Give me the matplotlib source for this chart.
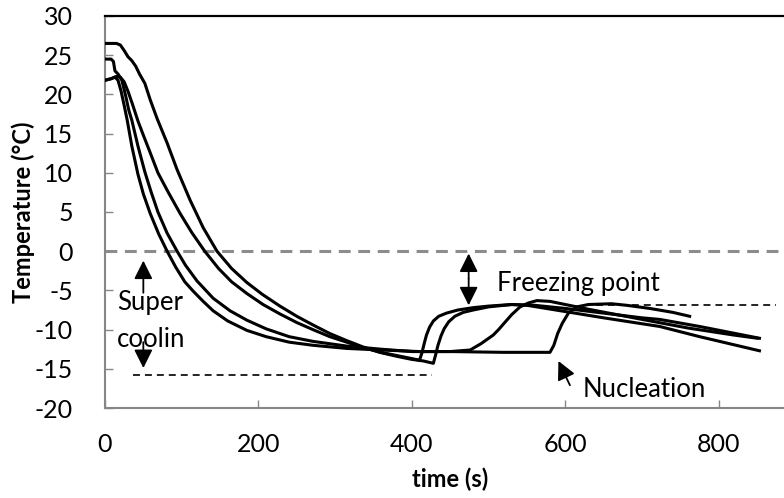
import matplotlib.pyplot as plt

plt.rcParams['font.family'] = ['Lato', 'DejaVu Sans']
plt.rcParams['lines.scale_dashes'] = False
plt.rcParams['axes.unicode_minus'] = False

# curva que empieza en 26.5 C (nucleacion a 428 s)
t_a = [0, 15, 20, 25, 30, 35, 40, 45, 52, 59, 68, 81, 94, 111, 128, 146, 165, 185, 205, 228,
       250, 271, 293, 315, 336, 358, 380, 400, 415, 428, 431, 434, 438, 442, 448, 456, 467,
       480, 500, 530, 560, 600, 650, 700, 723, 775, 853]
T_a = [26.5, 26.5, 26.3, 25.6, 24.8, 24.3, 23.6, 22.6, 21.4, 19.3, 16.9, 13.8, 10.4, 6.5, 3.0,
       0.0, -2.2, -4.0, -5.5, -7.0, -8.3, -9.4, -10.5, -11.4, -12.2, -12.9, -13.4, -13.8, -14.0,
       -14.3, -13.2, -12.0, -10.8, -9.9, -9.0, -8.3, -7.8, -7.5, -7.1, -6.8, -6.9, -7.3, -7.9,
       -8.5, -8.7, -9.6, -11.1]

# curva que empieza en 24.5 C (nucleacion gradual a 476 s)
t_b = [0, 8, 11, 13, 17, 22, 27, 31, 35, 43, 52, 60, 69, 81, 94, 105, 120, 141, 163, 185,
       210, 240, 271, 315, 360, 400, 450, 476, 490, 506, 513, 521, 530, 541, 552, 563, 580,
       600, 630, 700, 760, 820, 850]
T_b = [24.5, 24.5, 24.2, 23.0, 22.6, 21.8, 19.8, 18.0, 16.7, 13.4, 10.1, 7.6, 5.0, 2.3, 0.0,
       -1.8, -3.8, -6.0, -7.6, -8.8, -9.9, -10.9, -11.5, -12.1, -12.5, -12.8, -12.8, -12.6,
       -11.8, -10.7, -10.0, -9.1, -8.1, -7.1, -6.6, -6.3, -6.4, -6.8, -7.4, -8.7, -9.8, -10.7,
       -11.1]

# curva con el maximo de 22.3 C (nucleacion a 410 s)
t_c = [0, 8, 15, 20, 25, 30, 36, 43, 50, 58, 69, 82, 98, 113, 130, 148, 165, 185, 206, 228,
       250, 271, 293, 315, 336, 360, 380, 400, 410, 413, 416, 419, 423, 428, 435, 445, 460,
       480, 500, 530, 550, 600, 650, 723, 775, 853]
T_c = [21.8, 22.0, 22.3, 22.2, 21.6, 20.4, 18.7, 16.6, 14.8, 12.8, 10.0, 7.6, 4.8, 2.4, 0.0,
       -2.2, -3.9, -5.4, -6.8, -8.0, -9.1, -10.0, -10.9, -11.6, -12.3, -12.9, -13.3, -13.7,
       -13.9, -13.0, -11.8, -10.7, -9.7, -8.9, -8.3, -7.9, -7.5, -7.2, -7.0, -6.8, -6.9, -7.7,
       -8.5, -9.6, -10.9, -12.7]

# curva mas rapida (nucleacion a 580 s)
t_d = [0, 8, 13, 17, 21, 25, 29, 35, 43, 50, 59, 70, 81, 92, 104, 115, 128, 141, 160, 185,
       210, 240, 271, 315, 360, 410, 450, 520, 580, 585, 590, 596, 604, 615, 630, 660, 680,
       710, 740, 762]
T_d = [21.8, 22.0, 22.2, 21.8, 20.4, 18.6, 16.7, 13.4, 9.8, 7.3, 4.8, 2.2, 0.0, -2.0, -3.9,
       -5.1, -6.4, -7.6, -8.9, -10.1, -10.9, -11.6, -12.0, -12.4, -12.6, -12.8, -12.8, -12.9,
       -12.9, -12.0, -10.5, -9.2, -7.9, -7.1, -6.8, -6.7, -6.9, -7.3, -7.8, -8.3]

xticks = [0, 200, 400, 600, 800]
yticks = [-20, -15, -10, -5, 0, 5, 10, 15, 20, 25, 30]

fig = plt.figure(figsize=(7.84, 4.98), dpi=100)
ax = fig.add_axes([0.1339, 0.1807, 0.8661, 0.7872])

for t, T in [(t_a, T_a), (t_b, T_b), (t_c, T_c), (t_d, T_d)]:
    ax.plot(t, T, color='black', lw=2.2, solid_joinstyle='round', zorder=3)

# punto de congelacion y lineas de referencia
ax.axhline(0, color='#8c8c8c', lw=2.2, dashes=(8.5, 5.5), zorder=2)
ax.plot([36, 426], [-15.8, -15.8], color='black', lw=1.2, dashes=(5, 3.6))
ax.plot([640, 875], [-6.8, -6.8], color='black', lw=1.2, dashes=(5, 3.6))

arr = dict(arrowstyle='-|>', color='black', lw=1.3, mutation_scale=28, shrinkA=0, shrinkB=0)
ax.annotate('', xy=(50, -1.2), xytext=(50, -5.3), arrowprops=arr)
ax.annotate('', xy=(50, -14.9), xytext=(50, -11.6), arrowprops=arr)
ax.annotate('', xy=(474, -0.3), xytext=(474, -3.5), arrowprops=arr)
ax.annotate('', xy=(474, -6.9), xytext=(474, -3.5), arrowprops=arr)
ax.annotate('', xy=(591, -14.0), xytext=(606, -17.1), arrowprops=arr)

ax.text(16, -6.6, 'Super', fontsize=18.5, va='center', ha='left')
ax.text(16, -11.2, 'coolin', fontsize=18.5, va='center', ha='left')
ax.text(511, -4.1, 'Freezing point', fontsize=18.5, va='center', ha='left')
ax.text(623, -17.6, 'Nucleation', fontsize=18.5, va='center', ha='left')

ax.set_xlim(0, 885)
ax.set_ylim(-20, 30)
ax.set_xticks(xticks)
ax.set_yticks(yticks)
ax.tick_params(direction='in', length=6, width=1, color='#868686', labelsize=18)
ax.tick_params(axis='y', pad=23)
ax.tick_params(axis='x', pad=18)

ax.spines['right'].set_visible(False)
ax.spines['top'].set_color('black')
ax.spines['top'].set_linewidth(1.6)
for s in ['left', 'bottom']:
    ax.spines[s].set_color('#868686')
    ax.spines[s].set_linewidth(1.5)

ax.set_xlabel('time (s)', fontsize=17, fontweight='bold')
ax.set_ylabel('Temperature (°C)', fontsize=17, fontweight='bold')
ax.xaxis.set_label_coords(0.508, -0.153)
ax.yaxis.set_label_coords(-0.103, 0.5)

fig.savefig('out.png', dpi=100)
